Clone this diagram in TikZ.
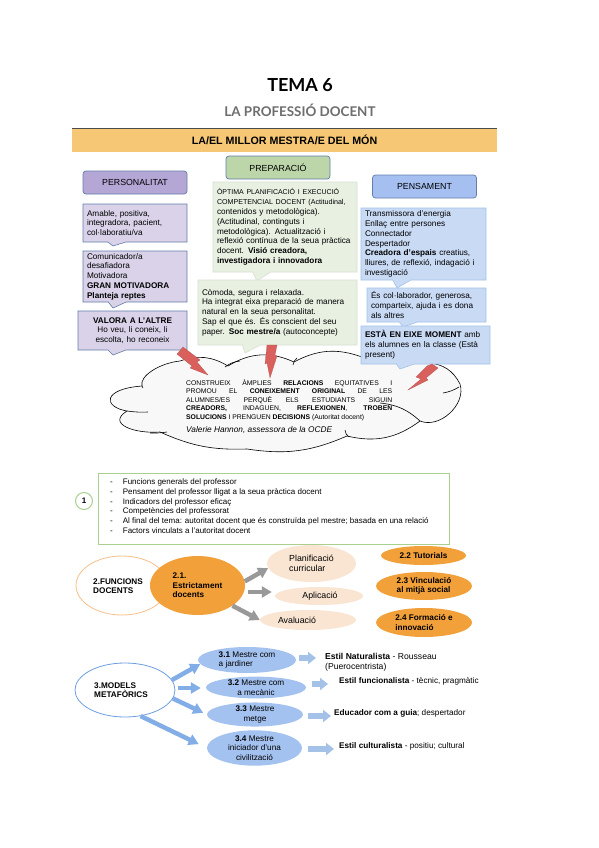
\documentclass[tikz,border=0pt]{standalone}
\usepackage{fontspec}
\setmainfont{Liberation Sans}
\newfontfamily\titlefont{Lato}
\usetikzlibrary{arrows.meta,shapes.callouts,shapes.geometric}
\definecolor{tabband}{RGB}{246,200,118}
\definecolor{tabtitlegray}{RGB}{110,110,110}
\definecolor{tabpurplehead}{RGB}{180,167,214}
\definecolor{tabpurple}{RGB}{217,210,233}
\definecolor{tabgreenhead}{RGB}{188,214,170}
\definecolor{tabgreen}{RGB}{232,240,226}
\definecolor{tabbluehead}{RGB}{164,191,240}
\definecolor{tabblue}{RGB}{201,218,245}
\definecolor{tabedge}{RGB}{100,125,170}
\definecolor{tabbolt}{RGB}{217,96,92}
\definecolor{tabcloud}{RGB}{248,248,248}
\definecolor{tabframe}{RGB}{169,208,142}
\definecolor{taborange}{RGB}{241,160,58}
\definecolor{tabpeach}{RGB}{249,229,210}
\definecolor{tabpeachedge}{RGB}{246,192,138}
\definecolor{tabmodel}{RGB}{164,194,240}
\definecolor{tabmodeledge}{RGB}{109,158,225}
\definecolor{tablight}{RGB}{164,194,232}
\definecolor{tabarrow}{RGB}{153,153,153}
\tikzset{
  headbox/.style={draw=tabedge,line width=0.7pt,rounded corners=3pt,font=\fontsize{8.8}{10}\selectfont,
    minimum width=104,minimum height=23,inner sep=0pt},
  textbox/.style={rectangle callout,line width=0.6pt,align=left,anchor=center,inner xsep=4pt,inner ysep=0pt,
    font=\fontsize{8.2}{9.8}\selectfont,callout pointer width=18},
  purplebox/.style={textbox,draw=tabedge,fill=tabpurple},
  greenbox/.style={textbox,draw=tabgreen!85!gray,fill=tabgreen},
  bluebox/.style={textbox,draw=tablight,fill=tabblue},
  orangeoval/.style={ellipse,fill=taborange,inner sep=0pt,font=\bfseries\fontsize{8.2}{9.6}\selectfont,align=left},
  peachoval/.style={ellipse,fill=tabpeach,inner sep=0pt,font=\fontsize{8.8}{10}\selectfont,align=left},
  modeloval/.style={ellipse,fill=tabmodel,inner sep=0pt,font=\fontsize{8.2}{9.6}\selectfont,align=center},
  plaintext/.style={inner sep=0pt,anchor=west,align=left,font=\fontsize{8.2}{9.8}\selectfont},
  grayarrow/.style={draw=tabarrow,line width=4.5pt,-{Triangle[length=10pt,width=11pt]}},
  bluearrow/.style={draw=tabmodeledge!85!white,line width=4.5pt,-{Triangle[length=10pt,width=11pt]}},
  lightarrow/.style={draw=tablight,line width=5.5pt,-{Triangle[length=8pt,width=12pt]}},
  bolt/.style={fill=tabbolt,draw=tabbolt!80!black,line width=0.2pt}
}
\begin{document}
\begin{tikzpicture}[x=1pt,y=-1pt]
\useasboundingbox (0,0) rectangle (599,848);
\fill[white] (0,0) rectangle (599,848);
\node[font=\titlefont\bfseries\fontsize{18}{20}\selectfont,inner sep=0pt] (tema) at (300,85) {TEMA 6};
\node[font=\titlefont\bfseries\fontsize{13.4}{15}\selectfont,text=tabtitlegray,inner sep=0pt] (docent) at (300,110) {LA PROFESSIÓ DOCENT};
\node[fill=tabband,minimum width=425,minimum height=23,inner sep=0pt,font=\bfseries\fontsize{10.7}{12}\selectfont] (band) at (284.5,140) {LA/EL MILLOR MESTRA/E DEL MÓN};
\draw[black!70,line width=0.6pt] (band.north west) -- (band.north east);
\node[headbox,fill=tabgreenhead] (preparacio) at (278,167.5) {PREPARACIÓ};
\node[headbox,fill=tabpurplehead] (personalitat) at (135,182.5) {PERSONALITAT};
\node[headbox,fill=tabbluehead] (pensament) at (424.5,186.5) {PENSAMENT};

\draw[black,fill=tabcloud,line width=0.6pt] (127,411) .. controls (103,407) and (102,389) .. (142,386)
  .. controls (139,376) and (160,363) .. (180,361)
  to[bend left=25] (228,366) to[bend left=28] (294,362) to[bend left=24] (362,357) to[bend left=20] (428,363)
  to[bend left=30] (460,384) to[bend left=65] (420,421) to[bend left=25] (347,436)
  to[bend left=16] (247,449) to[bend left=13] (160,432) .. controls (135,434) and (106,424) .. (127,411) -- cycle;
\draw[black,line width=0.6pt] (225,367) to[bend left=15] (240,361);
\draw[black,line width=0.6pt] (293,365) to[bend left=20] (297,358);
\draw[black,line width=0.6pt] (142,386) -- (143,388);
\draw[black,line width=0.6pt] (127,411) to[bend right=5] (148,412);
\draw[black,line width=0.6pt] (150,433) to[bend right=5] (167,432);
\draw[black,line width=0.6pt] (380,403) to[bend left=18] (420,421);
\draw[black,line width=0.6pt] (443,393) to[bend right=10] (459,387);
\draw[black,line width=0.6pt] (345,430) to[bend right=25] (349,437);

\node[purplebox,text width=96,minimum height=38,callout absolute pointer={(113,246)}] (amable) at (135,223)
  {Amable, positiva,\\integradora, pacient,\\col·laboratiu/va};
\node[purplebox,text width=96,minimum height=51,callout absolute pointer={(113,308)}] (comunicadora) at (135,276.5)
  {Comunicador/a\\desafiadora\\Motivadora\\\textbf{GRAN MOTIVADORA}\\\textbf{Planteja reptes}};
\node[purplebox,text width=101,minimum height=39,align=center,callout absolute pointer={(113,355)}] (valora) at (132.5,330.5)
  {\textbf{VALORA A L'ALTRE}\\Ho veu, li coneix, li\\escolta, ho reconeix};

\node[greenbox,text width=136,minimum height=90,callout absolute pointer={(257,281)}] (optima) at (285,227)
  {{\fontsize{7}{9.8}\selectfont ÒPTIMA PLANIFICACIÓ I EXECUCIÓ}\\{\fontsize{7.1}{9.8}\selectfont COMPETENCIAL DOCENT  (Actitudinal,}\\contenidos y metodològica).\\(Actitudinal, continguts i\\metodològica). Actualització i\\reflexió contínua de la seua pràctica\\docent. \textbf{Visió creadora,}\\\textbf{investigadora i innovadora}};
\node[greenbox,text width=151,minimum height=65,callout absolute pointer={(245,353)}] (comoda) at (277.5,312.5)
  {Còmoda, segura i relaxada.\\Ha integrat eixa preparació de manera\\natural en la seua personalitat.\\Sap el que és. És conscient del seu\\paper. \textbf{Soc mestre/a} (autoconcepte)};

\node[bluebox,text width=117,minimum height=72,callout absolute pointer={(397,288)}] (transmissora) at (423.5,244)
  {Transmissora d'energia\\Enllaç entre persones\\Connectador\\Despertador\\\textbf{Creadora d'espais} creatius,\\lliures, de reflexió, indagació i\\investigació};
\node[bluebox,text width=111,minimum height=34,callout absolute pointer={(403,327)}] (collaborador) at (426.5,305)
  {És col·laborador, generosa,\\comparteix, ajuda i es dona\\als altres};
\node[bluebox,text width=121,minimum height=38,callout absolute pointer={(400,369)}] (eixe) at (425.5,345)
  {\textbf{ESTÀ EN EIXE MOMENT} amb\\els alumnes en la classe (Està\\present)};

\draw[bolt] (183,347) -- (177,354) -- (192,366) -- (190,368) -- (208,375) -- (197,362) -- (200,360) -- cycle;
\draw[bolt] (267,345) -- (277,345) -- (275,355) -- (277,356) -- (270,378) -- (267,363) -- (265,364) -- cycle;
\draw[bolt] (427,366) -- (416,377) -- (421,379) -- (408,390) -- (428,380) -- (426,378) -- (438,368) -- (432,364) -- cycle;

\node[anchor=north west,inner sep=0pt,text width=206,align=justify,font=\fontsize{6.8}{8.6}\selectfont] (construeix) at (186,379)
  {CONSTRUEIX ÀMPLIES \textbf{RELACIONS} EQUITATIVES I\linebreak PROMOU EL \textbf{CONEIXEMENT ORIGINAL} DE LES\linebreak ALUMNES/ES PERQUÈ ELS ESTUDIANTS SIGUIN\linebreak \textbf{CREADORS,} INDAGUEN, \textbf{REFLEXIONEN}, \textbf{TROBEN}\linebreak \textbf{SOLUCIONS} I PRENGUEN \textbf{DECISIONS} (Autoritat docent)};
\node[plaintext,font=\itshape\fontsize{8.3}{9}\selectfont] (valerie) at (186,430) {Valerie Hannon, assessora de la OCDE};

\node[draw=tabframe,line width=1pt,minimum width=351,minimum height=71,inner sep=0pt] (frame) at (273.5,508.5) {};
\node[circle,draw=tabframe,line width=1pt,minimum size=17,inner sep=0pt,font=\bfseries\fontsize{8}{10}\selectfont] (one) at (84,501) {1};
\node[plaintext,font=\fontsize{8}{9.7}\selectfont] (llista) at (110,506)
  {-\hspace{10pt}Funcions generals del professor\\-\hspace{10pt}Pensament del professor lligat a la seua pràctica docent\\-\hspace{10pt}Indicadors del professor eficaç\\-\hspace{10pt}Competències del professorat\\-\hspace{10pt}Al final del tema: autoritat docent que és construïda pel mestre; basada en una relació\\-\hspace{10pt}Factors vinculats a l'autoritat docent};

\node[ellipse,draw=tabpeachedge,fill=white,line width=0.8pt,minimum width=92,minimum height=59,inner sep=0pt] (funcions) at (122,585.5) {};
\node[plaintext,font=\bfseries\fontsize{8.2}{9.6}\selectfont] (funcionstext) at (93,586) {2.FUNCIONS\\DOCENTS};
\node[orangeoval,minimum width=95,minimum height=59] (estricte) at (197.5,585.5) {2.1.\\Estrictament\hspace{10pt}\\docents};
\node[peachoval,minimum width=89,minimum height=37] (planif) at (311.5,563.5) {Planificació\hspace{9pt}\\curricular};
\node[peachoval,minimum width=88,minimum height=18] (aplicacio) at (319,596) {\hspace{2pt}Aplicació};
\node[peachoval,minimum width=96,minimum height=20] (avaluacio) at (308,620) {\hspace{-22pt}Avaluació};
\node[orangeoval,minimum width=85,minimum height=19] (tutorials) at (423.5,555.5) {2.2 Tutorials};
\node[orangeoval,minimum width=96,minimum height=28] (vinculacio) at (424,586) {2.3 Vinculació\hspace{6pt}\\al mitjà social};
\node[orangeoval,minimum width=96,minimum height=29] (formacio) at (424,622.5) {2.4 Formació e\hspace{4pt}\\innovació};
\draw[grayarrow] (estricte.5) -- (planif.186);
\draw[grayarrow,shorten <=3pt,shorten >=3pt] ([yshift=-6.5pt]estricte.east) -- ([yshift=-6.5pt]estricte.east -| aplicacio.west);
\draw[grayarrow] (estricte.-30) -- (avaluacio.west);

\node[ellipse,draw=tabmodeledge,fill=white,line width=0.8pt,minimum width=100,minimum height=54,inner sep=0pt] (models) at (125,690) {};
\node[plaintext,font=\bfseries\fontsize{8.2}{9.6}\selectfont] (modelstext) at (94,690) {3.MODELS\\METAFÒRICS};
\node[modeloval,minimum width=98,minimum height=26,align=left] (jardiner) at (247,660) {\textbf{3.1} Mestre com\hspace{4pt}\\a jardiner};
\node[modeloval,minimum width=100,minimum height=21] (mecanic) at (256,687.5) {\textbf{3.2} Mestre com\\a mecànic};
\node[modeloval,minimum width=96,minimum height=23] (metge) at (255,714.5) {\textbf{3.3} Mestre\\metge};
\node[modeloval,minimum width=95,minimum height=28] (iniciador) at (254.5,748) {\textbf{3.4}  Mestre\\iniciador d'una\\civilització};
\node[plaintext,font=\fontsize{8.6}{9.8}\selectfont] (naturalista) at (325,662) {\textbf{Estil Naturalista} - Rousseau\\(Puerocentrista)};
\node[plaintext] (funcionalista) at (339,681) {\textbf{Estil funcionalista} - tècnic, pragmàtic};
\node[plaintext] (educador) at (334,713) {\textbf{Educador com a guia}; despertador};
\node[plaintext] (culturalista) at (339,746) {\textbf{Estil culturalista} - positiu; cultural};
\draw[bluearrow] (models.12) -- (jardiner.185);
\draw[bluearrow,shorten <=3pt,shorten >=5pt] ([yshift=2pt]models.east) -- ([yshift=2pt]models.east -| mecanic.west);
\draw[bluearrow,shorten >=4pt] (models.-10) -- (metge.west);
\draw[bluearrow,shorten >=9pt] (models.-59) -- (iniciador.west);
\draw[lightarrow,shorten <=3pt,shorten >=9pt] ([yshift=2pt]jardiner.east) -- ([yshift=2pt]jardiner.east -| naturalista.west);
\draw[lightarrow,shorten <=6pt,shorten >=11pt] ([yshift=3.5pt]mecanic.east) -- ([yshift=3.5pt]mecanic.east -| funcionalista.west);
\draw[lightarrow,shorten <=5pt,shorten >=3pt] ([yshift=-1.5pt]metge.east) -- ([yshift=-1.5pt]metge.east -| educador.west);
\draw[lightarrow,shorten <=6pt,shorten >=5pt] ([yshift=-1pt]iniciador.east) -- ([yshift=-1pt]iniciador.east -| culturalista.west);
\end{tikzpicture}
\end{document}
